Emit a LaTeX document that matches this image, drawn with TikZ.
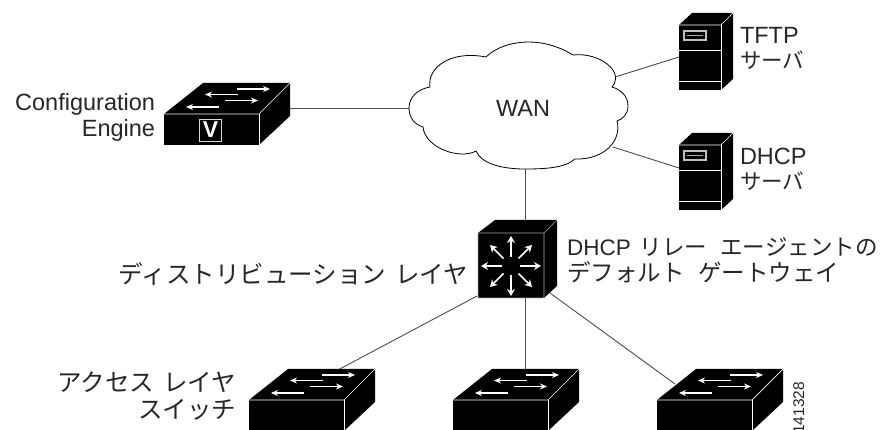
\documentclass[tikz,border=0pt]{standalone}
\usepackage{fontspec}
\setmainfont{Liberation Sans}
\newfontfamily\cjk{Noto Sans CJK JP}
\usetikzlibrary{arrows.meta}
\tikzset{
  x=1pt,y=-1pt,
  lbl/.style={font=\fontsize{23.5}{26}\selectfont,text=black!85,inner sep=0pt,outer sep=0pt},
  jlbl/.style={font=\cjk\fontsize{24.5}{26}\selectfont,text=black!85,inner sep=0pt,outer sep=0pt},
  jsmall/.style={font=\cjk\fontsize{21.5}{26}\selectfont,text=black!85,inner sep=0pt,outer sep=0pt},
  jmid/.style={font=\cjk\fontsize{23.5}{26}\selectfont,text=black!85,inner sep=0pt,outer sep=0pt},
  wire/.style={draw=black!70,line width=.9pt},
  wa/.style={white,line width=1.1pt,-{Stealth[length=7pt,width=6pt]}},
  cubea/.style={white,line width=1.7pt,-{Stealth[length=7pt,width=8pt]}},
  edgeline/.style={draw=white,line width=.7pt},
  pt/.style={inner sep=0pt,minimum size=0pt,outer sep=0pt}
}
\newcommand{\swbox}[2]{%
 \begin{scope}[shift={(#1,#2)}]
  \fill[black] (0,0)--(39,-31)--(126,-31)--(126,2)--(95,31)--(0,31)--cycle;
  \draw[edgeline] (0,0)--(95,0)--(126,-31);
  \draw[edgeline] (95,0)--(95,31);
  \draw[wa] (74,-19.5)--(41,-19.5);
  \draw[wa] (55,-7)--(22,-7);
  \draw[wa] (61,-13.5)--(94,-13.5);
  \draw[wa] (73,-25)--(106,-25);
 \end{scope}}
\newcommand{\srv}[2]{%
 \begin{scope}[shift={(#1,#2)}]
  \fill[black] (0,12)--(13,0)--(54,0)--(54,66)--(42,77)--(0,77)--cycle;
  \draw[edgeline] (0,12)--(42,12)--(54,0);
  \draw[edgeline] (42,12)--(42,77);
  \draw[edgeline] (0,37)--(42,37);
  \draw[edgeline] (0,68)--(42,68);
  \draw[black!25,line width=1.1pt] (5,18) rectangle (27,27);
  \draw[black!35,line width=1.2pt] (8,22.5)--(24,22.5);
 \end{scope}}
\begin{document}
\begin{tikzpicture}
\useasboundingbox (0,0) rectangle (895,430);
\node[pt] (ceport) at (290,108) {};
\node[pt] (cl) at (409,108) {};
\node[pt] (ct1) at (615,77) {};
\node[pt] (ct2) at (613,147) {};
\node[pt] (cb) at (525,169) {};
\node[pt] (tftp) at (679,57) {};
\node[pt] (dhcp) at (679,168) {};
\node[pt] (dtop) at (525,222) {};
\node[pt] (dbot) at (525,298) {};
\node[pt] (dl) at (477,296) {};
\node[pt] (dr) at (550,293) {};
\node[pt] (a1) at (336,371) {};
\node[pt] (a2) at (525,372) {};
\node[pt] (a3) at (675,384) {};
\draw[wire] (ceport)--(cl);
\draw[wire] (ct1)--(tftp);
\draw[wire] (ct2)--(dhcp);
\draw[wire] (cb)--(dtop);
\draw[wire] (dl)--(a1);
\draw[wire] (dbot)--(a2);
\draw[wire] (dr)--(a3);
% cloud
\path[draw=black,fill=white,line width=.8pt] (486,57)
 .. controls (497,46) and (515,42) .. (528,42)
 .. controls (545,42) and (560,47) .. (573,55)
 .. controls (600,52) and (625,72) .. (612,87)
 .. controls (622,90) and (628,97) .. (628,106)
 .. controls (628,114) and (623,119) .. (617,121)
 .. controls (622,140) and (605,160) .. (575,159)
 .. controls (565,168) and (545,169) .. (525,169)
 .. controls (505,169) and (482,165) .. (476,151)
 .. controls (460,160) and (425,148) .. (423,127)
 .. controls (413,124) and (409,116) .. (409,108)
 .. controls (409,97) and (418,89) .. (430,87)
 .. controls (427,68) and (450,50) .. (486,57) -- cycle;
\node[lbl,anchor=base] (wan) at (523,117) {WAN};
% switches
\swbox{164}{114}
\node[pt,draw=black!15,line width=.9pt,minimum width=22pt,minimum height=22pt,fill=black,text=white,font=\bfseries\fontsize{23}{23}\selectfont] (vbox) at (210.5,130) {V};
\swbox{249}{400}
\swbox{453}{400}
\swbox{657}{400}
% servers
\srv{679}{13}
\srv{679}{133}
% distribution cube
\fill[black] (478,233)--(495,220)--(557,220)--(557,286)--(544,298)--(478,298)--cycle;
\draw[draw=black!35,line width=.7pt] (557,220)--(544,233)--(478,233)--(478,298)--(544,298)--(544,233);
\foreach \dx/\dy in {0/-1,0/1,-1/0,1/0}{
  \draw[cubea] (511+9*\dx,266+9*\dy)--(511+30*\dx,266+30*\dy);}
\foreach \dx/\dy in {-1/-1,1/-1,-1/1,1/1}{
  \draw[cubea] (511+7.5*\dx,266+7.5*\dy)--(511+21*\dx,266+21*\dy);}
% labels
\node[lbl,anchor=base east] (cfg) at (155,111) {Configuration};
\node[lbl,anchor=base east] (eng) at (155,137) {Engine};
\node[lbl,anchor=base west] (t1) at (740,44) {TFTP};
\node[jsmall,anchor=base west] (t2) at (740,69) {サーバ};
\node[lbl,anchor=base west] (d1) at (740,165) {DHCP};
\node[jsmall,anchor=base west] (d2) at (740,190) {サーバ};
\node[anchor=base west,inner sep=0pt,text=black!85,font=\fontsize{22.5}{26}\selectfont] (rl1) at (567,256) {DHCP\hspace{9pt}{\cjk リレー\hspace{13pt}エージェントの}};
\node[jmid,anchor=base west] (rl2) at (567,282) {デフォルト\hspace{14pt}ゲートウェイ};
\node[jlbl,anchor=base east] (dist) at (468,284) {ディストリビューション\hspace{9pt}レイヤ};
\node[jlbl,anchor=base east] (acc1) at (236,392) {アクセス\hspace{9pt}レイヤ};
\node[jlbl,anchor=base east] (acc2) at (236,419) {スイッチ};
\node[anchor=base west,inner sep=0pt,rotate=90,font=\fontsize{15.5}{16}\selectfont,text=black!85] (num) at (804,434) {141328};
\end{tikzpicture}
\end{document}
